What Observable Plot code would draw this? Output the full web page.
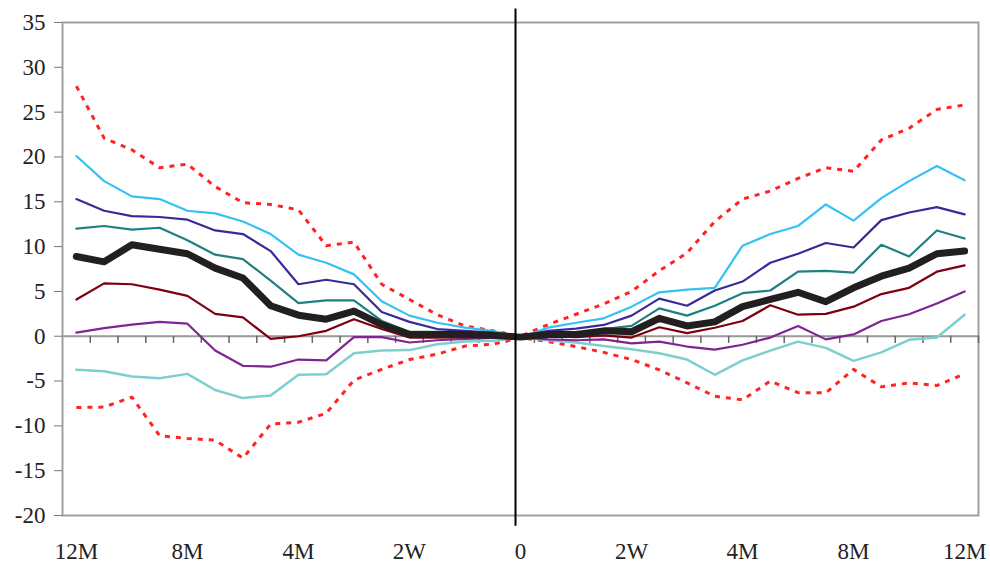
<!DOCTYPE html>
<html>
<head>
<meta charset="utf-8">
<script src="https://cdn.jsdelivr.net/npm/d3@7"></script>
<script src="https://cdn.jsdelivr.net/npm/@observablehq/plot@0.6"></script>
<style>
  html, body { margin: 0; padding: 0; background: #fff; }
  #chart svg { display: block; }
  #chart svg, #chart svg text { font-family: "Liberation Serif", "Times New Roman", Times, "DejaVu Serif", serif !important; }
</style>
</head>
<body>
<div id="chart"></div>
<script>
// x-axis tick labels (every 4th period) and their period indices
const xTickIndex = [0, 4, 8, 12, 16, 20, 24, 28, 32];
const xTickLabels = ["12M", "8M", "4M", "2W", "0", "2W", "4M", "8M", "12M"];
const yTicks = [-20, -15, -10, -5, 0, 5, 10, 15, 20, 25, 30, 35];

// 33 periods: 16 before, event (0), 16 after
const redUpper = [27.9, 22.1, 20.8, 18.8, 19.2, 16.7, 14.9, 14.7, 14.1, 10.1, 10.5, 5.8, 4.1, 2.4, 1.15, 0.6, 0,
  1.3, 2.45, 3.6, 5.0, 7.3, 9.3, 12.8, 15.3, 16.2, 17.6, 18.8, 18.4, 21.9, 23.2, 25.3, 25.8];
const cyan = [20.1, 17.3, 15.6, 15.3, 14.0, 13.7, 12.8, 11.4, 9.1, 8.2, 6.9, 3.9, 2.3, 1.5, 0.96, 0.6, -0.15,
  0.96, 1.5, 2.0, 3.3, 4.9, 5.2, 5.4, 10.1, 11.4, 12.3, 14.7, 12.9, 15.4, 17.3, 19.0, 17.4];
const indigo = [15.3, 14.0, 13.4, 13.3, 13.0, 11.8, 11.4, 9.5, 5.8, 6.3, 5.8, 2.7, 1.6, 0.8, 0.6, 0.4, 0,
  0.6, 0.85, 1.26, 2.3, 4.2, 3.4, 5.1, 6.1, 8.2, 9.2, 10.4, 9.9, 12.95, 13.8, 14.4, 13.6];
const teal = [12.0, 12.3, 11.9, 12.1, 10.7, 9.1, 8.6, 6.2, 3.7, 4.0, 4.0, 1.7, 0.5, 0.5, 0.4, 0.2, 0,
  0.4, 0.3, 0.8, 1.15, 3.1, 2.3, 3.4, 4.8, 5.1, 7.2, 7.3, 7.1, 10.2, 8.9, 11.8, 10.9];
const median = [8.9, 8.3, 10.2, 9.7, 9.2, 7.6, 6.5, 3.4, 2.35, 1.9, 2.8, 1.3, 0.2, 0.2, 0.2, 0.1, -0.1,
  0.2, 0.2, 0.6, 0.5, 2.0, 1.15, 1.6, 3.3, 4.1, 4.9, 3.85, 5.4, 6.7, 7.6, 9.2, 9.5];
const darkRed = [4.1, 5.9, 5.8, 5.2, 4.5, 2.5, 2.1, -0.3, 0.0, 0.6, 1.9, 0.8, -0.15, -0.15, -0.1, -0.1, -0.1,
  0, -0.1, 0.1, -0.15, 1.0, 0.35, 0.95, 1.7, 3.45, 2.4, 2.5, 3.3, 4.7, 5.4, 7.2, 7.9];
const purple = [0.4, 0.9, 1.3, 1.6, 1.4, -1.6, -3.3, -3.4, -2.6, -2.7, -0.1, -0.1, -0.7, -0.45, -0.3, -0.2, -0.1,
  -0.35, -0.45, -0.35, -0.8, -0.6, -1.15, -1.5, -0.95, -0.15, 1.15, -0.35, 0.2, 1.7, 2.45, 3.65, 5.0];
const lightTeal = [-3.75, -3.9, -4.5, -4.7, -4.2, -6.0, -6.9, -6.6, -4.3, -4.25, -1.9, -1.6, -1.55, -0.9, -0.6, -0.5, -0.15,
  -0.45, -0.7, -1.1, -1.45, -1.9, -2.6, -4.3, -2.7, -1.6, -0.6, -1.3, -2.75, -1.8, -0.4, -0.15, 2.4];
const redLower = [-7.95, -7.9, -6.8, -11.1, -11.4, -11.6, -13.6, -9.8, -9.6, -8.6, -4.9, -3.7, -2.6, -2.0, -1.1, -0.9, -0.15,
  -0.6, -1.15, -1.8, -2.6, -3.75, -5.2, -6.7, -7.1, -5.0, -6.3, -6.3, -3.7, -5.65, -5.2, -5.5, -4.2];

const toPts = arr => arr.map((v, i) => ({i, v}));
const boundaries = d3.range(0, 33).map(k => k + 0.5);

const font = "'Liberation Serif', 'Times New Roman', Times, 'DejaVu Serif', serif";

function solid(arr, color, w) {
  return Plot.line(toPts(arr), {x: "i", y: "v", stroke: color, strokeWidth: w, strokeLinejoin: "round"});
}
function dotted(arr) {
  return Plot.line(toPts(arr), {x: "i", y: "v", stroke: "#ff2424", strokeWidth: 3, strokeDasharray: "5,6", strokeLinecap: "butt"});
}

const chart = Plot.plot({
  width: 990,
  height: 563,
  marginLeft: 62,
  marginRight: 12,
  marginTop: 22,
  marginBottom: 48,
  style: {fontSize: "23px", color: "#222", background: "#fff"},
  x: {domain: [-0.5, 32.5]},
  y: {domain: [-20, 35]},
  marks: [
    Plot.frame({stroke: "#a0a0a0", strokeWidth: 2}),
    Plot.axisY({ticks: yTicks, tickFormat: d => String(d), tickSize: 8, tickPadding: 9,
      fontSize: 23, fontFamily: font, stroke: "#777", label: null}),
    Plot.axisX({ticks: xTickIndex, tickFormat: i => xTickLabels[xTickIndex.indexOf(i)], tickSize: 0,
      tickPadding: 27, fontSize: 23, fontFamily: font, label: null}),
    Plot.ruleY([0], {stroke: "#999", strokeWidth: 2}),
    Plot.ruleX(boundaries, {x: d => d, y1: 0, y2: -0.8, stroke: "#666", strokeWidth: 1.5}),
    dotted(redUpper),
    dotted(redLower),
    solid(lightTeal, "#7dcfcf", 2.5),
    solid(purple, "#7e2593", 2.2),
    solid(darkRed, "#7d0012", 2.2),
    solid(cyan, "#35c2f2", 2.2),
    solid(indigo, "#3a2a98", 2.2),
    solid(teal, "#1e8080", 2.2),
    solid(median, "#231f20", 7),
    Plot.ruleX([15.82], {y1: -21.2, y2: 36.5, stroke: "#000", strokeWidth: 2, clip: false})
  ]
});
document.getElementById("chart").appendChild(chart);
</script>
</body>
</html>
